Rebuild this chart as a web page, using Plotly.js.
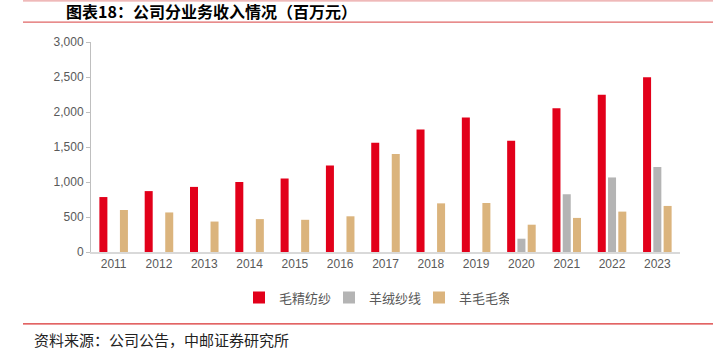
<!DOCTYPE html>
<html>
<head>
<meta charset="utf-8">
<script src="https://cdn.plot.ly/plotly-3.0.1.min.js"></script>
<style>html,body{margin:0;padding:0;background:#fff;}#chart{width:718px;height:351px;}</style>
</head>
<body>
<div id="chart"></div>
<script>
const years = ["2011","2012","2013","2014","2015","2016","2017","2018","2019","2020","2021","2022","2023"];
const seriesNames = ["毛精纺纱","羊绒纱线","羊毛毛条"];
const worstedYarn = [785, 870, 930, 1000, 1050, 1235, 1560, 1750, 1920, 1590, 2055, 2245, 2495];
const cashmereYarn = [null, null, null, null, null, null, null, null, null, 190, 825, 1065, 1215];
const woolTops = [600, 565, 435, 470, 460, 510, 1400, 695, 700, 390, 487, 577, 658];
const yTicks = [0, 500, 1000, 1500, 2000, 2500, 3000];

const colors = ["#E2001A", "#B4B4B4", "#DBB47D"];
const mkTrace = (vals, i) => ({
  type: "bar", x: years, y: vals, name: seriesNames[i],
  marker: {color: colors[i]}, hoverinfo: "x+y"
});
const data = [mkTrace(worstedYarn,0), mkTrace(cashmereYarn,1), mkTrace(woolTops,2)];

const L = 91, R = 680, T = 41.7, B = 252.3;
const W = R - L, H = B - T;
const px = x => (x - L) / W;
const py = y => (B - y) / H;

const layout = {
  width: 718, height: 351,
  margin: {l: L, r: 718 - R, t: T, b: 351 - B, pad: 0},
  paper_bgcolor: "#fff", plot_bgcolor: "#fff",
  font: {family: "Liberation Sans, Arial, sans-serif", size: 12, color: "#595959"},
  barmode: "group", bargap: 0.32, bargroupgap: 0.22,
  title: {
    text: "<b>图表18：公司分业务收入情况（百万元）</b>",
    xref: "container", x: 66/718, xanchor: "left",
    yref: "container", y: 1 - 12/351, yanchor: "middle",
    font: {family: "Noto Sans CJK SC", size: 16, color: "#000"}
  },
  xaxis: {
    type: "category", showline: true, linecolor: "#D9D9D9", linewidth: 2,
    ticks: "", showgrid: false, zeroline: false,
    tickfont: {size: 12, color: "#595959"}
  },
  yaxis: {
    range: [0, 3000], tickvals: yTicks, tickformat: ",d",
    showline: true, linecolor: "#BFBFBF", linewidth: 1,
    ticks: "outside", ticklen: 4, tickcolor: "#BFBFBF",
    showgrid: false, zeroline: false,
    tickfont: {size: 12, color: "#595959"}
  },
  showlegend: true,
  legend: {
    orientation: "h", xref: "paper", yref: "paper",
    x: px(374), xanchor: "center", y: py(298), yanchor: "middle",
    entrywidth: 45, entrywidthmode: "pixels",
    font: {family: "Noto Sans CJK SC", size: 13, color: "#595959"},
    itemclick: false, itemdoubleclick: false
  },
  annotations: [{
    text: "资料来源：公司公告，中邮证券研究所",
    xref: "paper", yref: "paper", x: px(32), y: py(340),
    xanchor: "left", yanchor: "middle", showarrow: false,
    font: {family: "Noto Sans CJK SC", size: 15, color: "#222"}
  }],
  shapes: [
    {type: "line", xref: "paper", yref: "paper", x0: px(23), x1: px(713), y0: py(0.5), y1: py(0.5), line: {color: "#E58A8A", width: 1}},
    {type: "line", xref: "paper", yref: "paper", x0: px(23), x1: px(713), y0: py(21.7), y1: py(21.7), line: {color: "#E06666", width: 1.3}},
    {type: "line", xref: "paper", yref: "paper", x0: px(23), x1: px(713), y0: py(324.3), y1: py(324.3), line: {color: "#D93030", width: 1.3}}
  ]
};

Plotly.newPlot("chart", data, layout, {displayModeBar: false, staticPlot: true});
</script>
</body>
</html>
